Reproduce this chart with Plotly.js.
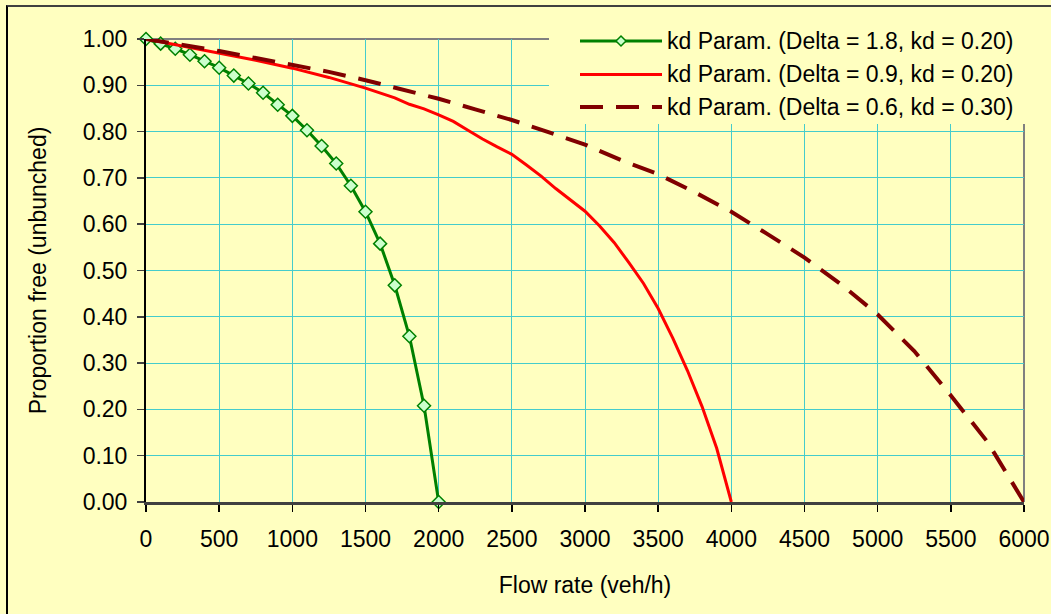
<!DOCTYPE html>
<html><head><meta charset="utf-8">
<script src="https://cdn.plot.ly/plotly-3.0.1.min.js"></script>
<style>
body{margin:0;background:#FFFFC0;overflow:hidden}
#wrap{position:relative;width:1051px;height:614px}
#chart{position:absolute;left:0;top:0;width:1051px;height:614px}
#frame{position:absolute;left:6px;top:5px;width:1100px;height:700px;border-top:2px solid #404040;border-left:2px solid #000;pointer-events:none}
</style>
</head><body><div id="wrap"><div id="chart"></div><div id="frame"></div></div>
<script>
// ---- data ----
const seriesNames = [
  'kd Param. (Delta = 1.8, kd = 0.20)',
  'kd Param. (Delta = 0.9, kd = 0.20)',
  'kd Param. (Delta = 0.6, kd = 0.30)'
];
const flowA = [0,100,200,300,400,500,600,700,800,900,1000,1100,1200,1300,1400,1500,1600,1700,1800,1900,2000];
const freeA = [1.000,0.990,0.979,0.966,0.952,0.938,0.921,0.904,0.884,0.858,0.834,0.803,0.769,0.731,0.683,0.627,0.558,0.468,0.358,0.208,0.000];
const flowB = [0,250,500,750,1000,1250,1500,1600,1700,1800,1900,2000,2100,2200,2300,2400,2500,2600,2700,2800,2900,3000,3100,3200,3300,3400,3500,3600,3700,3800,3900,4000];
const freeB = [1.000,0.985,0.970,0.954,0.937,0.917,0.894,0.884,0.873,0.859,0.849,0.836,0.822,0.803,0.784,0.767,0.751,0.728,0.704,0.677,0.652,0.628,0.596,0.560,0.517,0.472,0.418,0.354,0.284,0.206,0.116,0.000];
const flowC = [0,250,500,750,1000,1250,1500,1750,2000,2250,2500,2750,3000,3250,3500,3750,4000,4250,4500,4750,5000,5250,5500,5750,6000];
const freeC = [1.000,0.988,0.974,0.959,0.944,0.929,0.911,0.892,0.871,0.848,0.825,0.799,0.772,0.738,0.708,0.669,0.627,0.578,0.528,0.470,0.405,0.326,0.230,0.130,0.000];
const xTicks = [0,500,1000,1500,2000,2500,3000,3500,4000,4500,5000,5500,6000];
const yTicks = [0,0.1,0.2,0.3,0.4,0.5,0.6,0.7,0.8,0.9,1.0];
const xTitle = 'Flow rate (veh/h)';
const yTitle = 'Proportion free (unbunched)';

const BG = '#FFFFC0';
const GRID = '#44CCCC';
const FONT = 'Liberation Sans, Arial, sans-serif';
const FS = 23;
const colors = ['#008000', '#FF0000', '#800000'];

const traces = [
  {x: flowA, y: freeA, name: seriesNames[0], type: 'scatter', mode: 'lines+markers', cliponaxis: false,
   line: {color: colors[0], width: 3},
   marker: {symbol: 'diamond', size: 10, color: '#CCFFCC', line: {color: colors[0], width: 1.5}}},
  {x: flowB, y: freeB, name: seriesNames[1], type: 'scatter', mode: 'lines', cliponaxis: false,
   line: {color: colors[1], width: 3}},
  {x: flowC, y: freeC, name: seriesNames[2], type: 'scatter', mode: 'lines', cliponaxis: false,
   line: {color: colors[2], width: 4, dash: '23px,13px'}}
];

// pixel -> paper helpers for the hand-drawn legend box
const PL = 146, PR = 1024, PT = 39, PB = 502;
const px = p => (p - PL) / (PR - PL);
const py = p => (PB - p) / (PB - PT);

const legRows = [41, 74.5, 107];
const legX0 = 580, legX1 = 662, legTextX = 665;
const dxp = 5 / (PR - PL), dyp = 5 / (PB - PT);
const dmx = px(621), dmy = py(legRows[0]);

const shapes = [
  {type: 'line', xref: 'paper', yref: 'paper', x0: 0, x1: 1, y0: 1, y1: 1, layer: 'between', line: {color: '#808080', width: 2}},
  {type: 'line', xref: 'paper', yref: 'paper', x0: 1, x1: 1, y0: 0, y1: 1, layer: 'between', line: {color: '#808080', width: 2}},
  {type: 'rect', xref: 'paper', yref: 'paper', x0: px(549), x1: px(1045), y0: py(124), y1: py(10), layer: 'above', fillcolor: BG, line: {width: 0}},
  {type: 'line', xref: 'paper', yref: 'paper', x0: px(legX0), x1: px(legX1), y0: py(legRows[0]), y1: py(legRows[0]), layer: 'above', line: {color: colors[0], width: 3}},
  {type: 'path', xref: 'paper', yref: 'paper', layer: 'above',
   path: `M ${dmx - dxp},${dmy} L ${dmx},${dmy + dyp} L ${dmx + dxp},${dmy} L ${dmx},${dmy - dyp} Z`,
   fillcolor: '#CCFFCC', line: {color: colors[0], width: 1.5}},
  {type: 'line', xref: 'paper', yref: 'paper', x0: px(legX0), x1: px(legX1), y0: py(legRows[1]), y1: py(legRows[1]), layer: 'above', line: {color: colors[1], width: 3}},
  {type: 'line', xref: 'paper', yref: 'paper', x0: px(legX0), x1: px(legX1), y0: py(legRows[2]), y1: py(legRows[2]), layer: 'above', line: {color: colors[2], width: 4, dash: '23px,13px'}}
];

const annotations = seriesNames.map((n, i) => ({
  xref: 'paper', yref: 'paper', x: px(legTextX), y: py(legRows[i]), xanchor: 'left', yanchor: 'middle',
  text: n, showarrow: false, font: {family: FONT, size: FS, color: '#000'}
}));

const layout = {
  width: 1051, height: 614,
  margin: {l: PL, r: 1051 - PR, t: PT, b: 614 - PB, pad: 0},
  paper_bgcolor: BG, plot_bgcolor: BG,
  showlegend: false,
  font: {family: FONT, size: FS, color: '#000'},
  xaxis: {
    range: [0, 6000], tickvals: xTicks, ticktext: xTicks.map(String),
    showgrid: true, gridcolor: GRID, gridwidth: 1, zeroline: false,
    showline: true, linecolor: '#404040', linewidth: 2.5,
    ticks: 'outside', ticklen: 7, tickwidth: 1.5, tickcolor: '#000',
    ticklabelstandoff: 8,
    tickfont: {family: FONT, size: FS, color: '#000'},
    title: {text: xTitle, font: {family: FONT, size: FS, color: '#000'}, standoff: 26}
  },
  yaxis: {
    range: [0, 1], tickvals: yTicks, tickformat: '.2f',
    showgrid: true, gridcolor: GRID, gridwidth: 1, zeroline: false,
    showline: true, linecolor: '#000', linewidth: 2,
    ticks: 'outside', ticklen: 7, tickwidth: 1.5, tickcolor: '#404040',
    ticklabelstandoff: 5,
    tickfont: {family: FONT, size: FS, color: '#000'},
    title: {text: yTitle, font: {family: FONT, size: FS, color: '#000'}, standoff: 30}
  },
  shapes: shapes,
  annotations: annotations
};

Plotly.newPlot('chart', traces, layout, {displayModeBar: false, staticPlot: true});
</script>
</body></html>
